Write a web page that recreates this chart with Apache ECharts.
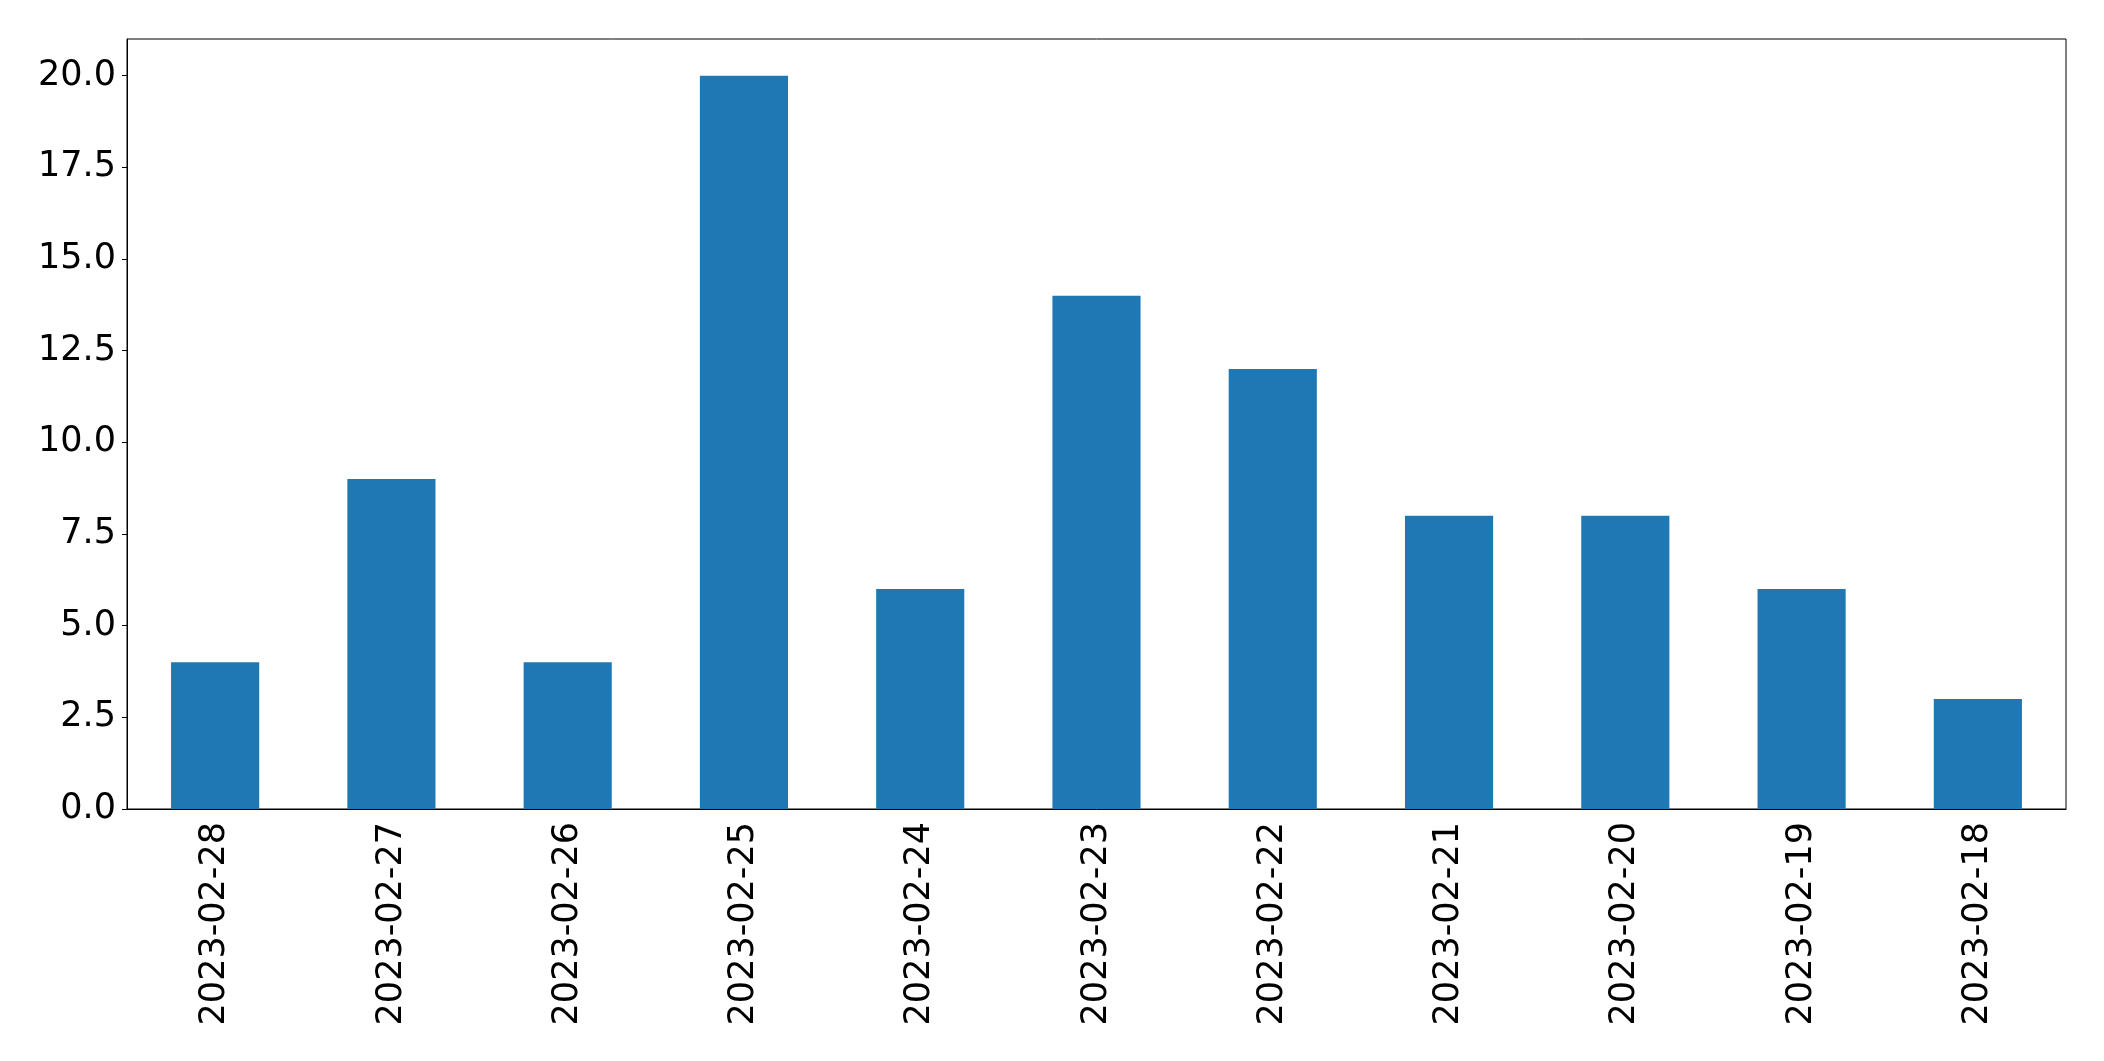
<!DOCTYPE html>
<html>
<head>
<meta charset="utf-8">
<script src="https://cdn.jsdelivr.net/npm/echarts@6/dist/echarts.min.js"></script>
<style>
html,body{margin:0;padding:0;background:#fff;}
#chart{width:2104px;height:1061px;}
</style>
</head>
<body>
<div id="chart"></div>
<script>
const categories = ["2023-02-28","2023-02-27","2023-02-26","2023-02-25","2023-02-24","2023-02-23","2023-02-22","2023-02-21","2023-02-20","2023-02-19","2023-02-18"];
const values = [4, 9, 4, 20, 6, 14, 12, 8, 8, 6, 3];

const chart = echarts.init(document.getElementById('chart'), null, {renderer: 'canvas'});
const font = 'DejaVu Sans';
chart.setOption({
  animation: false,
  backgroundColor: '#ffffff',
  grid: {
    left: 127, right: 38, top: 39, bottom: 252,
    show: true, borderColor: '#000', borderWidth: 1, backgroundColor: 'transparent'
  },
  xAxis: {
    type: 'category',
    data: categories,
    axisLine: {lineStyle: {color: '#000', width: 1}},
    axisTick: {alignWithLabel: true, length: 5, lineStyle: {color: '#000', width: 1}},
    axisLabel: {rotate: 90, color: '#000', fontFamily: font, fontSize: 35, margin: 13, interval: 0},
    splitLine: {show: false}
  },
  yAxis: {
    type: 'value',
    min: 0, max: 21, interval: 2.5,
    axisLine: {show: true, lineStyle: {color: '#000', width: 1}},
    axisTick: {show: true, length: 5, lineStyle: {color: '#000', width: 1}},
    axisLabel: {color: '#000', fontFamily: font, fontSize: 35, margin: 11, showMaxLabel: false,
      formatter: v => (Math.abs(v / 2.5 - Math.round(v / 2.5)) < 1e-9) ? v.toFixed(1) : ''},
    splitLine: {show: false}
  },
  series: [{
    type: 'bar',
    data: values,
    barWidth: '50%',
    itemStyle: {color: '#1f77b4'}
  }]
});
</script>
</body>
</html>
